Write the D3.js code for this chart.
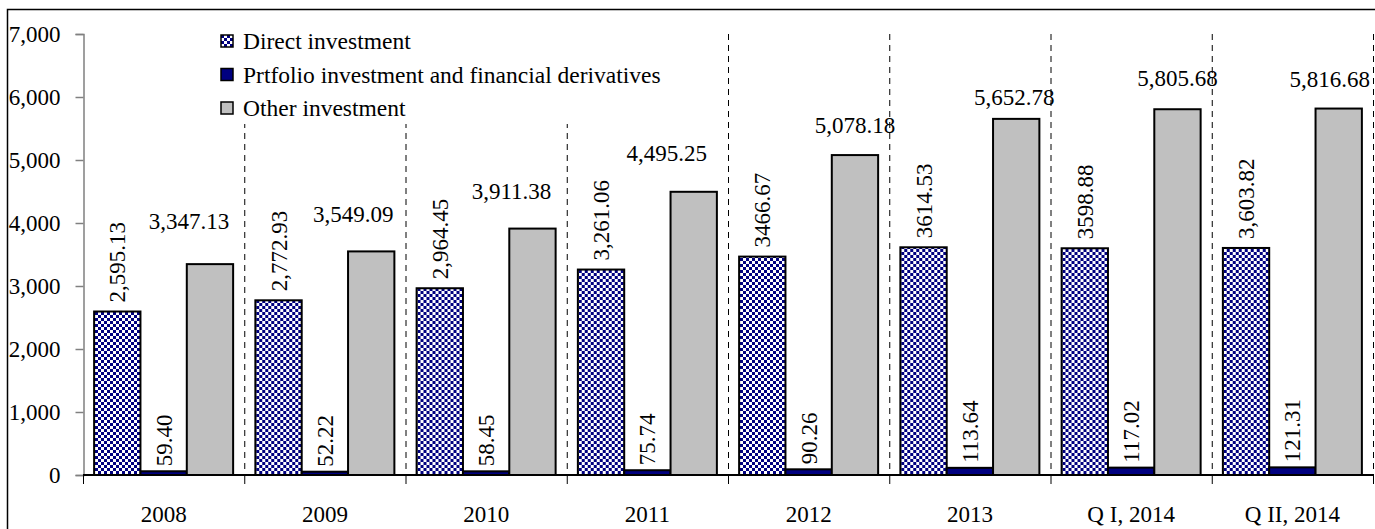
<!DOCTYPE html>
<html lang="en">
<head>
  <meta charset="UTF-8">
  <title>Investment positions</title>
  <script src="https://d3js.org/d3.v7.min.js"></script>
  <style>
    body { margin: 0; background: #fff; overflow: hidden; }
    svg { display: block; }
    text { font-family: "Liberation Serif", "Times New Roman", serif; fill: #000; }
  </style>
</head>
<body>
<svg width="1375" height="529"></svg>
<script>
const categories = ['2008', '2009', '2010', '2011', '2012', '2013', 'Q I, 2014', 'Q II, 2014'];
const seriesNames = ['Direct investment', 'Prtfolio investment and financial derivatives', 'Other investment'];
const direct = [2595.13, 2772.93, 2964.45, 3261.06, 3466.67, 3614.53, 3598.88, 3603.82];
const portfolio = [59.40, 52.22, 58.45, 75.74, 90.26, 113.64, 117.02, 121.31];
const other = [3347.13, 3549.09, 3911.38, 4495.25, 5078.18, 5652.78, 5805.68, 5816.68];
const yTicks = [0, 1000, 2000, 3000, 4000, 5000, 6000, 7000];
// direct labels printed without thousands separator in the original
const directNoComma = [4, 5, 6];

// hand-placed "other" labels (pixel nudges, as in the source chart)
const otherLabelDx = [-21, -18, -21, -27, 0, -2, 0, -9];
const otherLabelGap = [43, 37, 38, 39, 30, 22, 31, 30];

const svg = d3.select('svg');
const fontSize = 23;
const serif = '"Liberation Serif", "Times New Roman", serif';

const x = d3.scaleBand().domain(categories).range([83, 1373]);
const x1 = d3.scaleBand().domain(seriesNames).range([0, x.bandwidth()]).paddingOuter(0.24);
const y = d3.scaleLinear().domain([0, 7000]).range([475, 34]);

// checkered pattern for direct investment
const defs = svg.append('defs');
const pat = defs.append('pattern')
  .attr('id', 'checker')
  .attr('patternUnits', 'userSpaceOnUse')
  .attr('width', 6).attr('height', 6);
pat.append('rect').attr('width', 6).attr('height', 6).attr('fill', '#fff');
pat.append('rect').attr('width', 3).attr('height', 3).attr('fill', '#000080');
pat.append('rect').attr('x', 3).attr('y', 3).attr('width', 3).attr('height', 3).attr('fill', '#000080');

const fills = ['url(#checker)', '#000080', '#c0c0c0'];

// outer chart border
svg.append('rect')
  .attr('x', 7.5).attr('y', 9.5)
  .attr('width', 1400).attr('height', 600)
  .attr('fill', 'none').attr('stroke', '#000').attr('stroke-width', 1.5);

// dashed separators between categories
svg.append('g').selectAll('line')
  .data(categories)
  .enter().append('line')
  .attr('x1', d => x(d) + x.bandwidth() + 0.5)
  .attr('x2', d => x(d) + x.bandwidth() + 0.5)
  .attr('y1', y(7000))
  .attr('y2', y(0))
  .attr('stroke', '#000')
  .attr('stroke-width', 1)
  .attr('stroke-dasharray', '6,5');

// bars
const table = categories.map((c, i) => ({ c, i, vals: [direct[i], portfolio[i], other[i]] }));

const groups = svg.append('g').selectAll('g')
  .data(table)
  .enter().append('g')
  .attr('transform', d => `translate(${x(d.c)},0)`);

groups.selectAll('rect')
  .data(d => d.vals.map((v, k) => ({ v, k })))
  .enter().append('rect')
  .attr('x', d => x1(seriesNames[d.k]))
  .attr('width', x1.bandwidth())
  .attr('y', d => y(d.v))
  .attr('height', d => y(0) - y(d.v))
  .attr('fill', d => fills[d.k])
  .attr('stroke', '#000')
  .attr('stroke-width', 2);

const fmtComma = d3.format(',.2f');
const fmtPlain = d3.format('.2f');

// direct labels (rotated)
groups.append('text')
  .attr('transform', d => {
    const cx = x1(seriesNames[0]) + x1.bandwidth() / 2;
    return `translate(${cx},${y(d.vals[0]) - 9}) rotate(-90)`;
  })
  .attr('dy', '0.35em')
  .attr('font-size', fontSize)
  .text(d => directNoComma.includes(d.i) ? fmtPlain(d.vals[0]) : fmtComma(d.vals[0]));

// portfolio labels (rotated)
groups.append('text')
  .attr('transform', d => {
    const cx = x1(seriesNames[1]) + x1.bandwidth() / 2;
    return `translate(${cx},${y(d.vals[1]) - 5}) rotate(-90)`;
  })
  .attr('dy', '0.35em')
  .attr('font-size', fontSize)
  .text(d => fmtComma(d.vals[1]));

// other labels (horizontal)
groups.append('text')
  .attr('x', d => x1(seriesNames[2]) + x1.bandwidth() / 2 + otherLabelDx[d.i])
  .attr('y', d => y(d.vals[2]) - otherLabelGap[d.i])
  .attr('dy', '0.35em')
  .attr('text-anchor', 'middle')
  .attr('font-size', fontSize)
  .text(d => fmtComma(d.vals[2]));

// y axis
const yAxis = svg.append('g')
  .attr('transform', 'translate(83.5,0)')
  .call(d3.axisLeft(y).tickValues(yTicks).tickFormat(d3.format(',')).tickSize(8).tickPadding(15));
yAxis.select('.domain').attr('stroke', '#808080').attr('stroke-width', 1.5);
yAxis.selectAll('.tick line').attr('stroke', '#808080').attr('stroke-width', 1.5);
yAxis.selectAll('text')
  .attr('font-size', fontSize)
  .attr('font-family', serif)
  .attr('fill', '#000');

// x axis line, boundary ticks and labels
const xg = svg.append('g');
xg.append('line')
  .attr('x1', x.range()[0]).attr('x2', x.range()[1])
  .attr('y1', y(0)).attr('y2', y(0))
  .attr('stroke', '#000').attr('stroke-width', 2);
const edges = [x.range()[0]].concat(categories.map(c => x(c) + x.bandwidth()));
xg.selectAll('line.edge')
  .data(edges)
  .enter().append('line')
  .attr('class', 'edge')
  .attr('x1', d => d + 0.5).attr('x2', d => d + 0.5)
  .attr('y1', y(0)).attr('y2', y(0) + 9)
  .attr('stroke', '#000').attr('stroke-width', 1);
xg.selectAll('text')
  .data(categories)
  .enter().append('text')
  .attr('x', d => x(d) + x.bandwidth() / 2)
  .attr('y', 522)
  .attr('text-anchor', 'middle')
  .attr('font-size', fontSize)
  .text(d => d);

// legend
const legend = svg.append('g');
legend.append('rect')
  .attr('x', 212).attr('y', 18)
  .attr('width', 463).attr('height', 106)
  .attr('fill', '#fff');
const lRow = legend.selectAll('g')
  .data(seriesNames)
  .enter().append('g')
  .attr('transform', (d, i) => `translate(221,${41 + i * 33.5})`);
lRow.append('rect')
  .attr('x', 0).attr('y', -6)
  .attr('width', 12).attr('height', 12)
  .attr('fill', (d, i) => fills[i])
  .attr('stroke', '#000')
  .attr('stroke-width', 1.5);
lRow.append('text')
  .attr('x', 22)
  .attr('dy', '0.35em')
  .attr('font-size', 23.5)
  .text(d => d);
</script>
</body>
</html>
